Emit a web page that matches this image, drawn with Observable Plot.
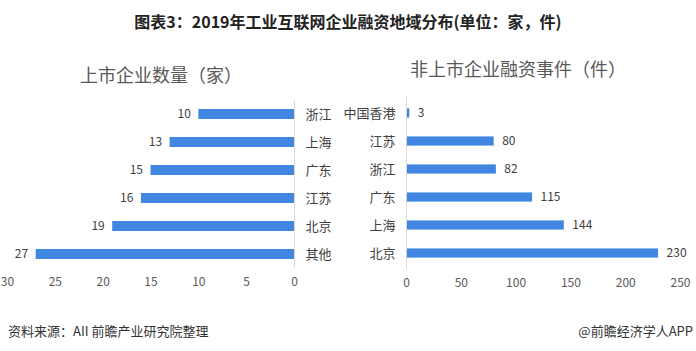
<!DOCTYPE html>
<html><head><meta charset="utf-8">
<script src="https://cdn.jsdelivr.net/npm/d3@7"></script>
<script src="https://cdn.jsdelivr.net/npm/@observablehq/plot@0.6"></script>
<style>
html,body{margin:0;padding:0;background:#fff;}
#wrap{position:relative;width:696px;height:351px;overflow:hidden;font-family:"Noto Sans CJK SC","Noto Sans",sans-serif;}
.t{position:absolute;white-space:nowrap;}
#title{left:0;width:696px;top:9px;text-align:center;font-size:16px;font-weight:bold;color:#222;}
#sub1{left:80px;top:61px;font-size:18px;color:#595959;}
#sub2{left:410px;top:55px;font-size:18px;color:#595959;}
#src{left:8px;top:321px;font-size:13px;color:#333;}
#app{right:3px;top:321px;font-size:13px;color:#333;}
#p1,#p2{position:absolute;top:0;}
#p1{left:0;} #p2{left:340px;}
</style></head>
<body><div id="wrap">
<div class="t" id="title">图表3：2019年工业互联网企业融资地域分布(单位：家，件)</div>
<div class="t" id="sub1">上市企业数量（家）</div>
<div class="t" id="sub2">非上市企业融资事件（件）</div>
<div id="p1"></div><div id="p2"></div>
<div class="t" id="src">资料来源：AII 前瞻产业研究院整理</div>
<div class="t" id="app">@前瞻经济学人APP</div>
</div>
<script>
const listedCats = ["浙江","上海","广东","江苏","北京","其他"];
const listedVals = [10,13,15,16,19,27];
const listedTicks = [0,5,10,15,20,25,30];
const unlistedCats = ["中国香港","江苏","浙江","广东","上海","北京"];
const unlistedVals = [3,80,82,115,144,230];
const unlistedTicks = [0,50,100,150,200,250];

const barColor = "#4186e0";
const font = "'Noto Sans CJK SC','Noto Sans',sans-serif";

const d1 = listedCats.map((c,i)=>({cat:c, v:listedVals[i]}));
const d2 = unlistedCats.map((c,i)=>({cat:c, v:unlistedVals[i]}));

const p1 = Plot.plot({
  width:345, height:300, marginLeft:7, marginRight:51, marginTop:100, marginBottom:32,
  style:{fontFamily:font, fontSize:"12px", color:"#595959", background:"transparent"},
  x:{domain:[0,30], reverse:true, ticks:listedTicks},
  y:{domain:listedCats, padding:0},
  marks:[
    Plot.barX(d1,{x:"v", y:"cat", fill:barColor, insetTop:9, insetBottom:9}),
    Plot.ruleX([0],{stroke:"#d9d9d9"}),
    Plot.text(d1,{x:"v", y:"cat", text:d=>String(d.v), dx:-8, textAnchor:"end", fill:"#404040", fontSize:12}),
    Plot.axisX({ticks:listedTicks, tickSize:0, tickPadding:9, label:null, fontSize:12, fill:"#595959"}),
    Plot.axisY({anchor:"right", tickSize:0, tickPadding:11, label:null, fontSize:13, fill:"#404040", textAnchor:"start"})
  ]
});
document.getElementById("p1").appendChild(p1);

const p2 = Plot.plot({
  width:356, height:300, marginLeft:66, marginRight:16, marginTop:96, marginBottom:31,
  style:{fontFamily:font, fontSize:"12px", color:"#595959", background:"transparent"},
  x:{domain:[0,250], ticks:unlistedTicks},
  y:{domain:unlistedCats, padding:0},
  marks:[
    Plot.barX(d2,{x:"v", y:"cat", fill:barColor, insetTop:9.4, insetBottom:9.4}),
    Plot.ruleX([0],{stroke:"#d9d9d9"}),
    Plot.text(d2,{x:"v", y:"cat", text:d=>String(d.v), dx:8, textAnchor:"start", fill:"#404040", fontSize:12}),
    Plot.axisX({ticks:unlistedTicks, tickSize:0, tickPadding:9, label:null, fontSize:12, fill:"#595959"}),
    Plot.axisY({anchor:"left", tickSize:0, tickPadding:11, label:null, fontSize:13, fill:"#404040"})
  ]
});
document.getElementById("p2").appendChild(p2);
</script>
</body></html>
